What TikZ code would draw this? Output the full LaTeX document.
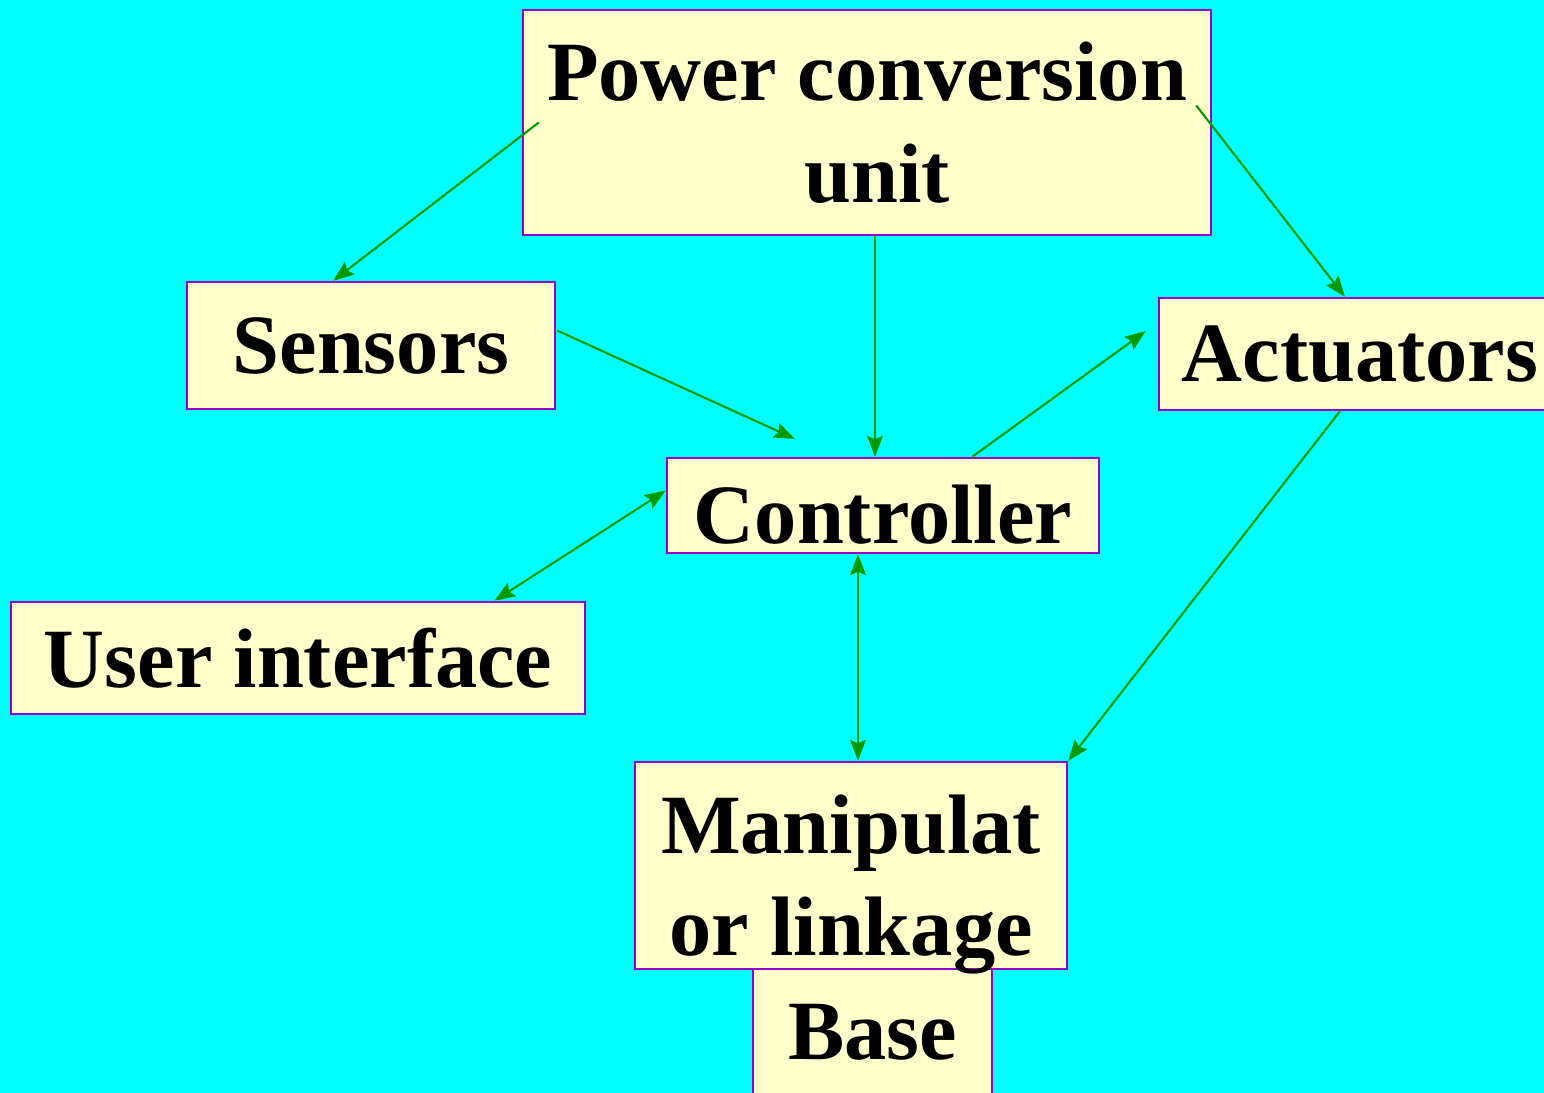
\documentclass[tikz,border=0pt]{standalone}
\usepackage{fontspec}
\setmainfont{Liberation Serif}
\usetikzlibrary{arrows.meta}
\definecolor{bgcyan}{RGB}{0,255,255}
\definecolor{boxfill}{RGB}{255,255,204}
\definecolor{boxline}{RGB}{153,0,204}
\definecolor{linkgreen}{RGB}{0,153,0}
\begin{document}
\begin{tikzpicture}[x=0.01cm,y=-0.01cm,
    block/.style={draw=boxline,fill=boxfill,line width=0.6pt,inner sep=0pt,align=center,
      font=\fontsize{24}{29}\selectfont\bfseries},
    link/.style={draw=linkgreen,line width=0.6pt,-{Stealth[length=6pt,width=4.5pt,inset=1pt]}},
    twoway/.style={link,{Stealth[length=6pt,width=4.5pt,inset=1pt]}-{Stealth[length=6pt,width=4.5pt,inset=1pt]}}]
    % Background
    \fill[bgcyan] (0,0) rectangle (1544,1093);
    \useasboundingbox (0,0) rectangle (1544,1093);
    \clip (0,0) rectangle (1544,1093);
    % Blocks
    \node[block,minimum width=6.88cm,minimum height=2.25cm] (power) at (867,122.5) {Power conversion\\\hspace{0.2cm}unit};
    \node[block,minimum width=3.68cm,minimum height=1.27cm] (sensors) at (371,345.5) {Sensors};
    \node[block,minimum width=4.02cm,minimum height=1.12cm] (actuators) at (1360,354) {Actuators};
    \node[block,minimum width=4.32cm,minimum height=0.95cm,text height=0.75cm,text depth=0pt] (controller) at (883,505.5) {Controller};
    \node[block,minimum width=5.74cm,minimum height=1.12cm] (user) at (298,658) {User interface};
    \node[block,minimum width=2.39cm,minimum height=1.26cm] (base) at (872.5,1032) {Base};
    \node[block,minimum width=4.32cm,minimum height=2.07cm,text height=1.79cm,text depth=0pt] (manip) at (851,865.5) {Manipulat\\or linkage};
    % Links
    \draw[link] ([shift={(17,0)}]power.west) -- ([shift={(-38,0)}]sensors.north);
    \draw[link] ([shift={(8,0)}]power.south) -- ([shift={(-8,0)}]controller.north);
    \draw[link] ([shift={(-16,-17)}]power.east) -- ([shift={(-15,0)}]actuators.north);
    \draw[link] ([shift={(1,-15)}]sensors.east) -- ([shift={(-88,-18)}]controller.north);
    \draw[link] ([shift={(89,0)}]controller.north) -- ([shift={(-12,-23)}]actuators.west);
    \draw[twoway] ([shift={(0,-15)}]controller.west) -- ([shift={(-92,0)}]user.north east);
    \draw[twoway] ([shift={(-25,0)}]controller.south) -- ([shift={(7,0)}]manip.north);
    \draw[link] ([shift={(-20,0)}]actuators.south) -- (manip.north east);
\end{tikzpicture}
\end{document}
